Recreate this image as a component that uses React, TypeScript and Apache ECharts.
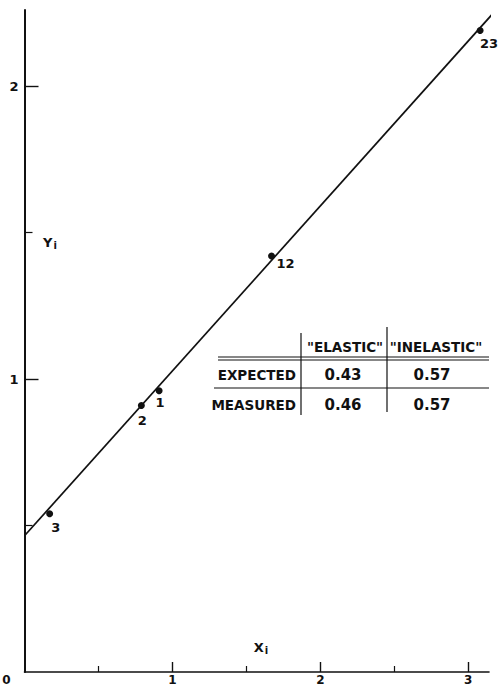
import React, { useEffect, useRef } from "react";
import * as echarts from "echarts";

// ---- data ----
const pointIds = ["3", "2", "1", "12", "23"];
const pointX = [0.17, 0.79, 0.91, 1.67, 3.08];
const pointY = [0.54, 0.91, 0.96, 1.42, 2.19];

const fitX = [0, 3.17];
const fitY = [0.465, 2.25];

const xMajorTicks = [1, 2, 3];
const xMinorTicks = [0.5, 1.5, 2.5];
const xTickLabels = [0, 1, 2, 3];
const yMajorTicks = [1, 2];
const yMinorTicks = [0.5, 1.5];
const yTickLabels = [1, 2];

const tableColumns = ['"ELASTIC"', '"INELASTIC"'];
const tableRows = ["EXPECTED", "MEASURED"];
const tableValues = [
  ["0.43", "0.57"],
  ["0.46", "0.57"],
];

// ---- styles ----
const INK = "#111111";
const FONT = "DejaVu Sans";
const labelOffsets: number[][] = [
  [6, 14],
  [1, 15],
  [1, 12],
  [14, 7],
  [9, 13],
];

export default function App() {
  const ref = useRef<HTMLDivElement>(null);
  useEffect(() => {
    if (!ref.current) return;
    const chart = echarts.init(ref.current, null, { renderer: "svg" });

    const colX = [345, 436];
    const rowY = [375, 405];
    const tableGraphics: any[] = [];
    tableColumns.forEach((c, i) => {
      tableGraphics.push({
        type: "text",
        x: colX[i],
        y: 347,
        style: { text: c, fill: INK, font: `bold 13.5px '${FONT}'`, align: "center", verticalAlign: "middle" },
      });
    });
    tableRows.forEach((r, j) => {
      tableGraphics.push({
        type: "text",
        x: 296,
        y: rowY[j],
        style: { text: r, fill: INK, font: `bold 13.5px '${FONT}'`, align: "right", verticalAlign: "middle" },
      });
      tableValues[j].forEach((v, i) => {
        tableGraphics.push({
          type: "text",
          x: i === 0 ? 343 : 432,
          y: rowY[j],
          style: { text: v, fill: INK, font: `bold 15px '${FONT}'`, align: "center", verticalAlign: "middle" },
        });
      });
    });
    const lineStyle = { stroke: INK, lineWidth: 1.2 };
    tableGraphics.push(
      { type: "line", shape: { x1: 218, y1: 357, x2: 489, y2: 357 }, style: lineStyle },
      { type: "line", shape: { x1: 218, y1: 360, x2: 489, y2: 360 }, style: lineStyle },
      { type: "line", shape: { x1: 214, y1: 388, x2: 489, y2: 388 }, style: lineStyle },
      { type: "line", shape: { x1: 301, y1: 333, x2: 301, y2: 415 }, style: lineStyle },
      { type: "line", shape: { x1: 387, y1: 327, x2: 387, y2: 412 }, style: lineStyle }
    );

    const axisText = { color: INK, fontFamily: FONT, fontWeight: "bold" as const, fontSize: 13 };
    const xText = { ...axisText, fontSize: 12, lineHeight: 12 };

    chart.setOption({
      animation: false,
      backgroundColor: "#fff",
      grid: { left: 24.5, right: 10, top: 10, bottom: 14, containLabel: false, outerBoundsMode: "none" },
      xAxis: [
        {
          type: "value",
          min: 0,
          max: 3.14,
          splitLine: { show: false },
          axisLine: { show: true, lineStyle: { color: INK, width: 1.6 } },
          axisTick: { show: true, inside: true, length: 10, customValues: xMajorTicks, lineStyle: { color: INK, width: 1.4 } },
          axisLabel: {
            show: true,
            customValues: xTickLabels,
            margin: 2,
            ...xText,
            formatter: (v: number) => (v === 0 ? "{z|0}" : String(v)),
            rich: { z: { ...xText, padding: [0, 36, 0, 0] } },
          },
        },
        {
          type: "value",
          min: 0,
          max: 3.14,
          position: "bottom",
          splitLine: { show: false },
          axisLine: { show: false },
          axisTick: { show: true, inside: true, length: 6, customValues: xMinorTicks, lineStyle: { color: INK, width: 1.2 } },
          axisLabel: { show: false },
        },
      ],
      yAxis: [
        {
          type: "value",
          min: 0,
          max: 2.26,
          splitLine: { show: false },
          axisLine: { show: true, lineStyle: { color: INK, width: 2 } },
          axisTick: { show: true, inside: true, length: 14, customValues: yMajorTicks, lineStyle: { color: INK, width: 1.4 } },
          axisLabel: { show: true, customValues: yTickLabels, margin: 6, ...axisText },
        },
        {
          type: "value",
          min: 0,
          max: 2.26,
          position: "left",
          splitLine: { show: false },
          axisLine: { show: false },
          axisTick: { show: true, inside: true, length: 8, customValues: yMinorTicks, lineStyle: { color: INK, width: 1.2 } },
          axisLabel: { show: false },
        },
      ],
      graphic: [
        {
          type: "text",
          x: 50,
          y: 242,
          style: {
            text: "{b|Y}{s|i}",
            align: "center",
            verticalAlign: "middle",
            rich: {
              b: { fill: INK, font: `bold 13px '${FONT}'` },
              s: { fill: INK, font: `bold 10px '${FONT}'`, padding: [6, 0, 0, 1] },
            },
          },
        },
        {
          type: "text",
          x: 261,
          y: 647,
          style: {
            text: "{b|X}{s|i}",
            align: "center",
            verticalAlign: "middle",
            rich: {
              b: { fill: INK, font: `bold 13px '${FONT}'` },
              s: { fill: INK, font: `bold 10px '${FONT}'`, padding: [6, 0, 0, 1] },
            },
          },
        },
        ...tableGraphics,
      ],
      series: [
        {
          type: "line",
          data: fitX.map((x, i) => [x, fitY[i]]),
          showSymbol: false,
          clip: false,
          lineStyle: { color: INK, width: 1.7 },
          silent: true,
        },
        {
          type: "scatter",
          symbolSize: 7,
          itemStyle: { color: INK, opacity: 1 },
          data: pointX.map((x, i) => ({
            value: [x, pointY[i]],
            name: pointIds[i],
            label: {
              show: true,
              position: "inside",
              offset: labelOffsets[i],
              formatter: "{b}",
              color: INK,
              textBorderWidth: 0,
              opacity: 1,
              fontFamily: FONT,
              fontWeight: "bold",
              fontSize: 13,
            },
          })),
        },
      ],
    });
    return () => chart.dispose();
  }, []);
  return <div ref={ref} style={{ position: "fixed", left: 0, top: 0, width: 499, height: 686 }} />;
}
